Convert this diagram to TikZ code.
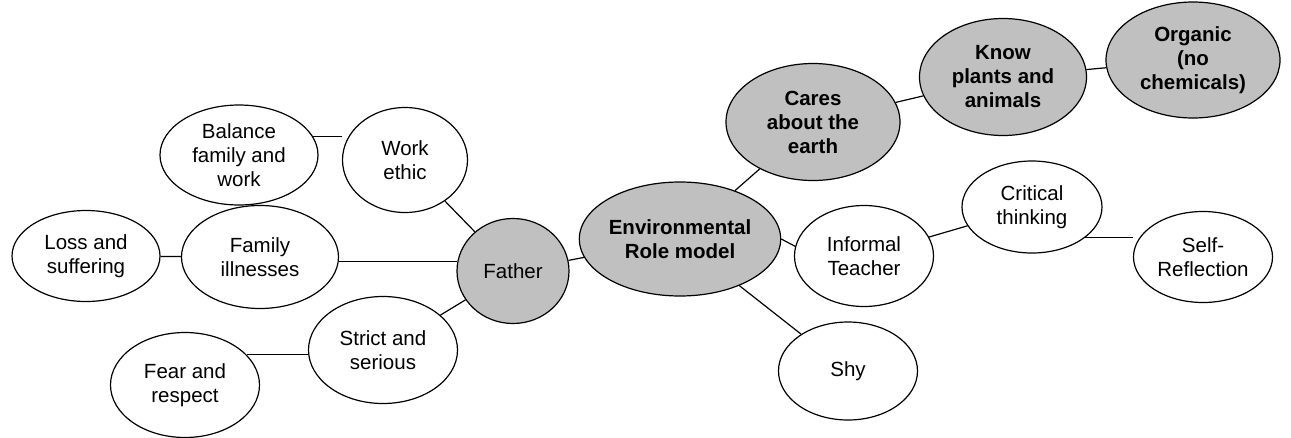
\documentclass[tikz,border=0pt]{standalone}
\usepackage{fontspec}
\setmainfont{Liberation Sans}
\usepackage{tikz}
\usetikzlibrary{shapes.geometric,positioning}
\definecolor{nodegray}{RGB}{192,192,192}

\begin{document}
\begin{tikzpicture}[x=1pt,y=-1pt]
\tikzstyle{main}=[ellipse, draw=black, line width=1.2pt, inner sep=0pt, align=center, font=\fontsize{20.5}{24}\selectfont]
\tikzstyle{shaded}=[main, fill=nodegray]
\tikzstyle{core}=[shaded, font=\fontsize{20.5}{24}\selectfont\bfseries]
\tikzstyle{link}=[line width=1.2pt]

\useasboundingbox (0,0) rectangle (1291,437);

%% Father side
  \node[shaded, minimum width=112pt, minimum height=105pt] (father) at (513,271) {Father};
  \node[main, minimum width=125pt, minimum height=105pt] (work) at (405,160) {Work\\ethic};
  \node[main, minimum width=158pt, minimum height=100pt] (balance) at (239,155) {Balance\\family and\\work};
  \node[main, minimum width=157pt, minimum height=103pt] (illness) at (260,257) {Family\\illnesses};
  \node[main, minimum width=148pt, minimum height=91pt] (loss) at (86,256) {Loss and\\suffering};
  \node[main, minimum width=149pt, minimum height=107pt] (strict) at (383,350) {Strict and\\serious};
  \node[main, minimum width=149pt, minimum height=105pt] (fear) at (185,385) {Fear and\\respect};

%% Role model
  \node[core, minimum width=191pt, minimum height=114pt] (role) at (680,239) {Environmental\\Role model};
  \node[core, minimum width=174pt, minimum height=117pt] (cares) at (813,122) {Cares\\about the\\earth};
  \node[core, minimum width=167pt, minimum height=117pt] (know) at (1003,77) {Know\\plants and\\animals};
  \node[core, minimum width=174pt, minimum height=116pt] (organic) at (1193,60) {Organic\\(no\\chemicals)};

%% Teacher side
  \node[main, minimum width=139pt, minimum height=101pt] (teacher) at (864,256) {Informal\\Teacher};
  \node[main, minimum width=140pt, minimum height=92pt] (critical) at (1032,207) {Critical\\thinking};
  \node[main, minimum width=139pt, minimum height=91pt] (self) at (1203,257) {Self-\\Reflection};
  \node[main, minimum width=139pt, minimum height=98pt] (shy) at (848,371) {Shy};

  \path
           %% Father
           (balance.14) edge [link] (balance.14 -| work.west)
           (work) edge [link] (father)
           (loss) edge [link] (illness)
           (illness.east |- father.170) edge [link] (father.170)
           (strict) edge [link] (father)
           (fear.26) edge [link] (fear.26 -| strict.west)
           (father) edge [link] (role)

           %% Role model
           (role) edge [link] (cares)
           (cares) edge [link] (know)
           (know) edge [link] (organic)
           (role.east) edge [link] (teacher.172)
           (role) edge [link] (shy)

           %% Teacher
           (teacher) edge [link] (critical)
           (critical.-30) edge [link] (critical.-30 -| self.west);
\end{tikzpicture}
\end{document}
